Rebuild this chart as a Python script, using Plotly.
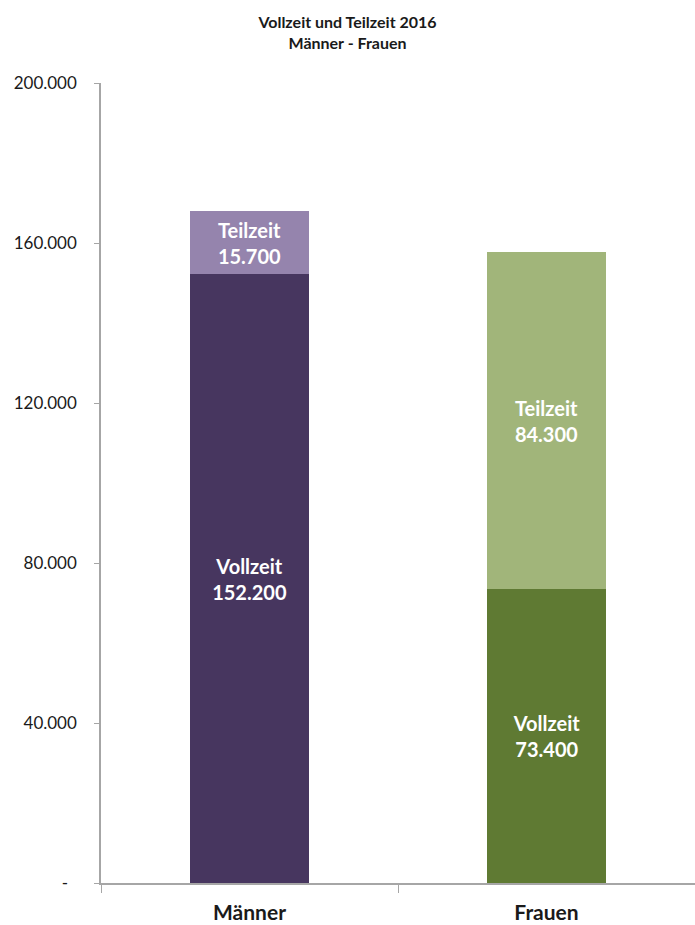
import plotly.graph_objects as go

categories = ["Männer", "Frauen"]
vollzeit = [152200, 73400]
teilzeit = [15700, 84300]
tick_vals = [0, 40000, 80000, 120000, 160000, 200000]
tick_text = ["-\u00a0\u00a0", "40.000", "80.000", "120.000", "160.000", "200.000"]

def fmt(v):
    return f"{v:,}".replace(",", ".")

font_family = "Lato, Open Sans, sans-serif"
label_size = 20

fig = go.Figure()
fig.add_trace(go.Bar(
    x=categories, y=vollzeit, name="Vollzeit",
    marker=dict(color=["#47365f", "#5f7a33"], line=dict(width=0)),
    text=[f"Vollzeit<br>{fmt(v)}" for v in vollzeit],
    textposition="inside", insidetextanchor="middle",
    textfont=dict(color="white", size=label_size, family=font_family, weight="bold"),
    width=0.4, hoverinfo="skip",
))
fig.add_trace(go.Bar(
    x=categories, y=teilzeit, name="Teilzeit",
    marker=dict(color=["#9584ad", "#a1b57a"], line=dict(width=0)),
    text=[f"Teilzeit<br>{fmt(v)}" for v in teilzeit],
    textposition="inside", insidetextanchor="middle",
    textfont=dict(color="white", size=label_size, family=font_family, weight="bold"),
    width=0.4, hoverinfo="skip",
))

fig.update_layout(
    barmode="stack",
    width=695, height=925,
    margin=dict(l=101, r=0, t=83, b=42),
    paper_bgcolor="white", plot_bgcolor="white",
    showlegend=False,
    font=dict(family=font_family, color="#1a1a1a"),
    title=dict(
        text="Vollzeit und Teilzeit 2016<br>Männer - Frauen",
        x=0.5, xanchor="center", yref="container", y=0.970, yanchor="top",
        font=dict(size=16, family=font_family, weight="bold", color="#1a1a1a"),
    ),
    uniformtext=dict(minsize=label_size, mode="show"),
)
fig.update_yaxes(
    range=[0, 200000], tickvals=tick_vals, ticktext=tick_text,
    showgrid=False, zeroline=False,
    showline=True, linecolor="#a6a6a6", linewidth=1.5,
    ticks="outside", ticklen=5, tickcolor="#a6a6a6",
    tickfont=dict(size=17, color="#1a1a1a"),
    ticklabelstandoff=14,
)
fig.update_xaxes(
    range=[-0.5, 1.5], showgrid=False, zeroline=False,
    showline=True, linecolor="#a6a6a6", linewidth=1.5,
    ticks="outside", ticklen=8, tickcolor="#a6a6a6", tickson="boundaries",
    tickfont=dict(size=21, color="#1a1a1a", weight="bold"),
    ticklabelstandoff=10,
)

fig.write_html("out.html", config={"displayModeBar": False},
               post_script="document.body.style.margin='0';")
